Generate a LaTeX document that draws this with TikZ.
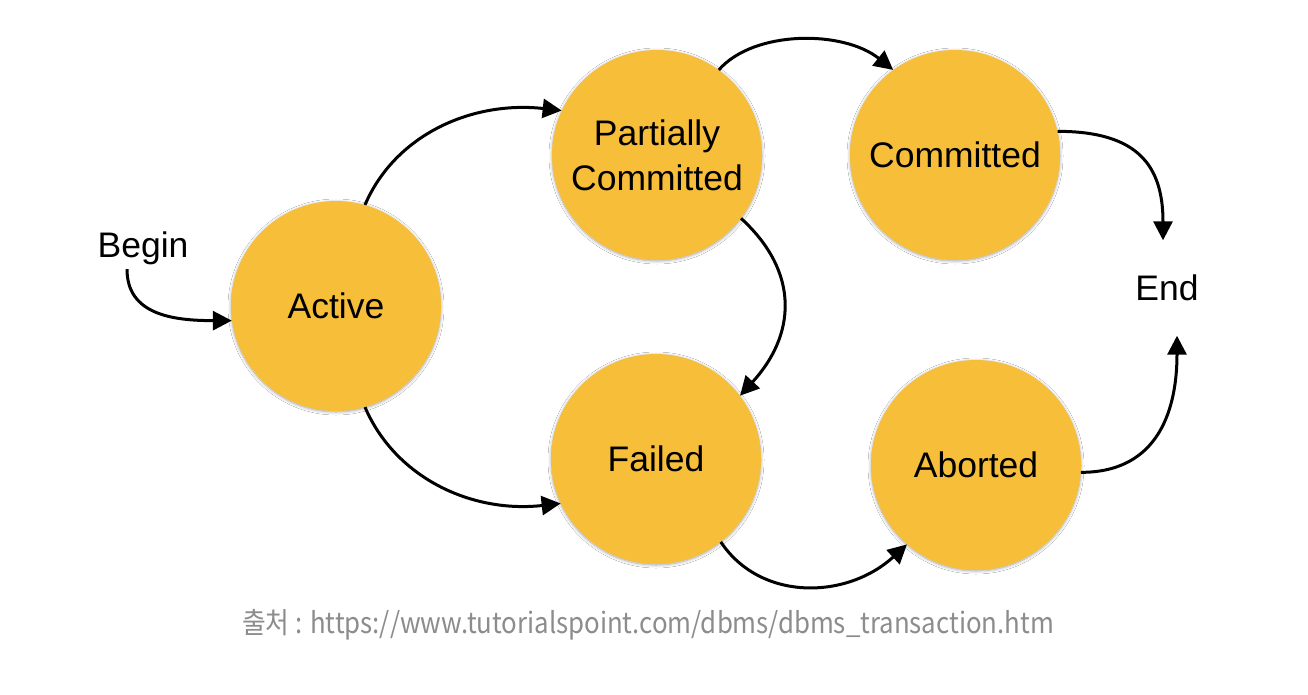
\documentclass[tikz,border=0pt]{standalone}
\usepackage{fontspec}
\setmainfont{Liberation Sans}
\newfontfamily\cjk{Noto Sans CJK KR}
\usetikzlibrary{arrows.meta,shadows.blur}
\definecolor{stateyellow}{RGB}{247,190,58}
\definecolor{capgray}{RGB}{140,140,140}
\tikzset{
  state/.style={circle, fill=stateyellow, minimum size=210pt, inner sep=0pt, align=center,
    font=\fontsize{35.5}{45}\selectfont,
    blur shadow={shadow blur steps=6, shadow xshift=0pt, shadow yshift=-1pt, shadow blur radius=3pt, shadow opacity=35}},
  label text/.style={font=\fontsize{35.5}{42}\selectfont, inner sep=0pt},
  flow/.style={line width=3pt, -{Triangle[length=19pt,width=19pt]}},
}
\begin{document}
\begin{tikzpicture}[x=1pt,y=-1pt]
\useasboundingbox[fill=white] (0,0) rectangle (1308,694);
\node[state] (act) at (336,306) {Active};
\node[state] (pc) at (657,155) {Partially\\Committed};
\node[state] (com) at (955,155) {Committed};
\node[state] (fail) at (656,459) {Failed};
\node[state] (abo) at (976,465) {Aborted};
\node[label text, minimum height=42pt] (begin) at (143,248) {Begin};
\node[label text, minimum height=95pt] (end) at (1167,288) {End};
\node[text=capgray, inner sep=0pt] (cap) at (648,625) {\scalebox{0.89}[1]{\cjk\fontsize{29}{34}\selectfont 출처 : https://www.tutorialspoint.com/dbms/dbms\_transaction.htm}};

\draw[flow] ([xshift=-16pt]begin.south) .. controls +(0,45) and +(-60,0) .. (act.188);
\draw[flow] (act.74) .. controls +(30,-70) and +(-90,-10) .. (pc.155);
\draw[flow] (pc.54) .. controls +(35,-40) and +(-50,-40) .. (com.126);
\draw[flow] (pc.-37) .. controls +(60,55) and +(55,-60) .. (fail.37);
\draw[flow] (act.-74) .. controls +(30,70) and +(-90,10) .. (fail.205);
\draw[flow] (fail.-52) .. controls +(40,60) and +(-60,55) .. (abo.229);
\draw[flow] (com.13) .. controls +(80,0) and +(0,-75) .. ([xshift=-4pt]end.north);
\draw[flow] (abo.-4) .. controls +(80,0) and +(0,70) .. ([xshift=10pt]end.south);
\end{tikzpicture}
\end{document}
